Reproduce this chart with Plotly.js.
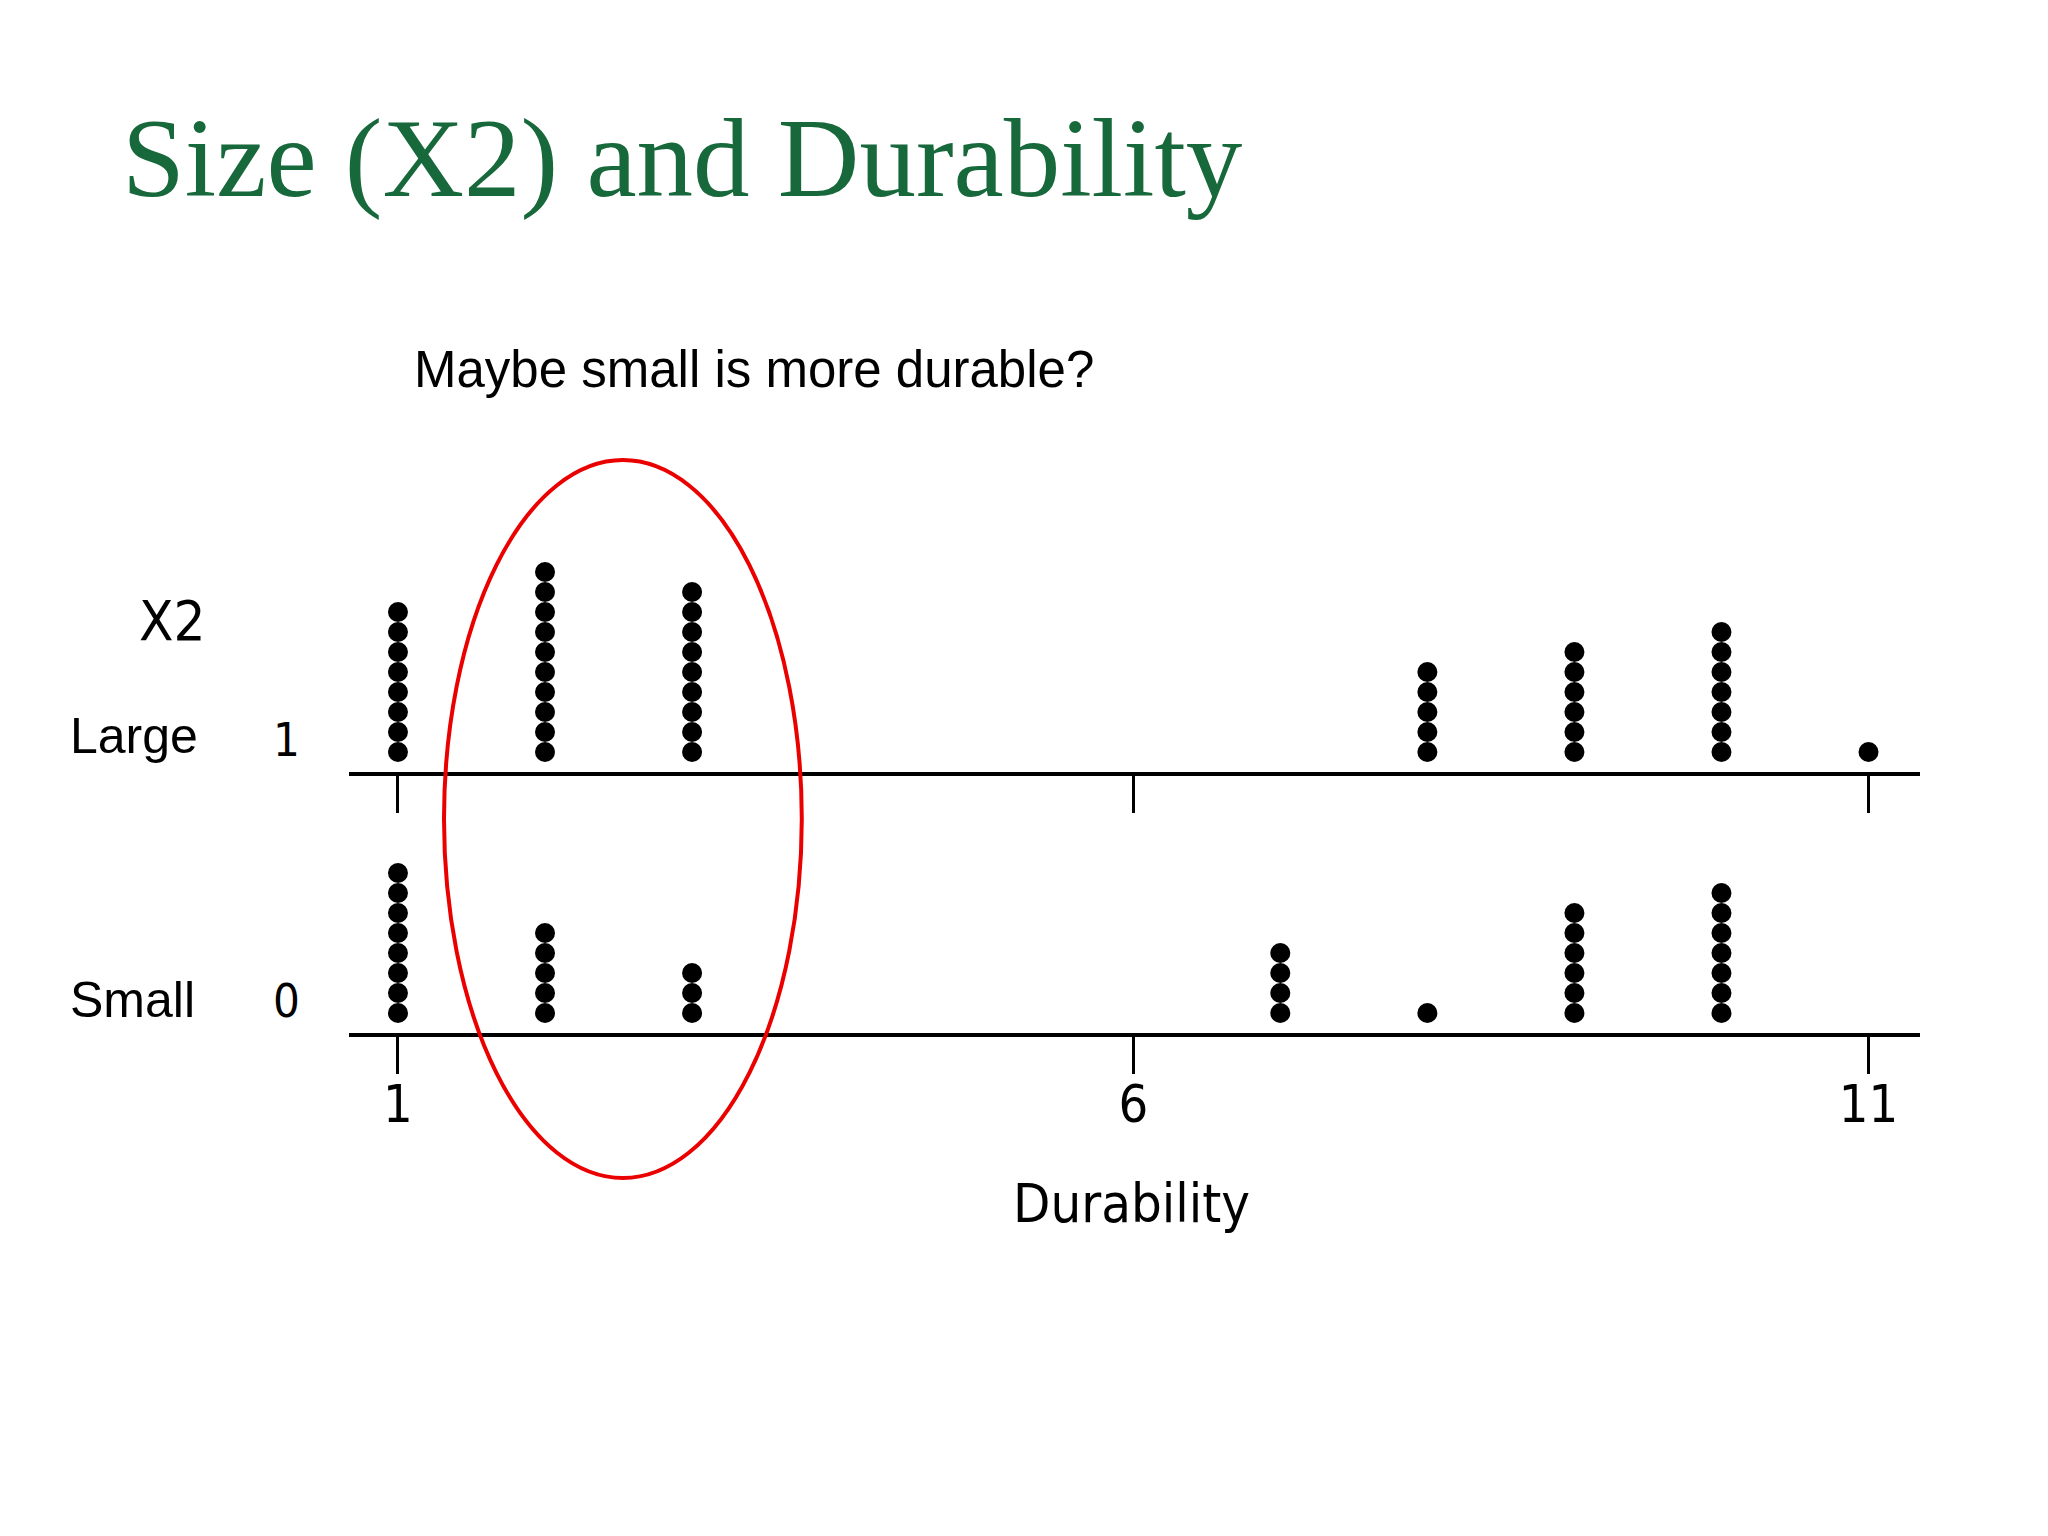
<!DOCTYPE html>
<html><head><meta charset="utf-8">
<script src="https://cdn.plot.ly/plotly-3.0.1.min.js"></script>
<style>html,body{margin:0;padding:0;background:#fff;}#chart{width:2048px;height:1536px;}</style>
</head><body><div id="chart"></div>
<script>
// ---- data ----
const durability = [1, 2, 3, 7, 8, 9, 10, 11];
const largeCounts = [8, 10, 9, 0, 5, 6, 7, 1];
const smallCounts = [8, 5, 3, 4, 1, 6, 7, 0];
const groupNames = ['Large', 'Small'];
const groupCodes = ['1', '0'];
const xTickVals = [1, 6, 11];
const titleText = 'Size (X2) and Durability';
const subtitleText = 'Maybe small is more durable?';
const xTitle = 'Durability';
const yTitle = 'X2';

// ---- build stacked dots from counts ----
function stack(counts) {
  const xs = [], ys = [];
  durability.forEach((d, i) => {
    for (let k = 1; k <= counts[i]; k++) { xs.push(d); ys.push(k); }
  });
  return { xs, ys };
}
const L = stack(largeCounts), S = stack(smallCounts);

// ---- geometry helpers (pixel layout) ----
const W = 2048, H = 1536;
const ml = 349, mr = 128, mt = 532, mb = 503;
const plotH = H - mt - mb;
const py = p => (H - mb - p) / plotH;          // page px y -> paper y
const px = p => (p - ml) / (W - ml - mr);        // page px x -> paper x

const narrow = 'Liberation Sans Narrow, DejaVu Sans Condensed, Arial Narrow, sans-serif';
const sans = 'Liberation Sans, Arial, sans-serif';

const dotMarker = { color: '#000', size: 20, symbol: 'circle' };

const traces = [
  { type: 'scatter', mode: 'markers', x: L.xs, y: L.ys, xaxis: 'x', yaxis: 'y',
    marker: dotMarker, hoverinfo: 'x', showlegend: false, cliponaxis: false },
  { type: 'scatter', mode: 'markers', x: S.xs, y: S.ys, xaxis: 'x2', yaxis: 'y2',
    marker: dotMarker, hoverinfo: 'x', showlegend: false, cliponaxis: false }
];

const xBase = {
  range: [0.667, 11.35], showline: true, linewidth: 4, linecolor: '#000',
  ticks: 'outside', ticklen: 37, tickwidth: 3, tickcolor: '#000',
  tickmode: 'array', tickvals: xTickVals, ticktext: xTickVals.map(String),
  showgrid: false, zeroline: false, fixedrange: true, automargin: false
};
const yBase = {
  range: [0, 12], showgrid: false, zeroline: false, showline: false,
  ticks: '', tickmode: 'array', tickvals: [1.6], ticklabelstandoff: 48,
  tickfont: { family: narrow, size: 47, color: '#000' }, fixedrange: true, automargin: false
};

const layout = {
  width: W, height: H, autosize: false,
  margin: { l: ml, r: mr, t: mt, b: mb },
  paper_bgcolor: '#fff', plot_bgcolor: 'rgba(0,0,0,0)',
  showlegend: false,
  xaxis: Object.assign({}, xBase, { anchor: 'y', domain: [0, 1], showticklabels: false }),
  yaxis: Object.assign({}, yBase, { anchor: 'x', domain: [py(772), 1], ticktext: [groupCodes[0]] }),
  xaxis2: Object.assign({}, xBase, { anchor: 'y2', domain: [0, 1], matches: 'x', showticklabels: true,
    ticklabelstandoff: -14, tickfont: { family: narrow, size: 52, color: '#000' } }),
  yaxis2: Object.assign({}, yBase, { anchor: 'x2', domain: [0, py(793)], ticktext: [groupCodes[1]] }),
  shapes: [
    { type: 'circle', xref: 'x', yref: 'paper', x0: 1.313, x1: 3.746, y0: py(1178), y1: py(460),
      line: { color: 'rgb(235,0,0)', width: 4 }, fillcolor: 'rgba(0,0,0,0)', layer: 'above' }
  ],
  annotations: [
    { text: titleText, xref: 'paper', yref: 'paper', x: px(120), y: py(157), xanchor: 'left', yanchor: 'middle',
      showarrow: false, font: { family: 'Liberation Serif, Times New Roman, serif', size: 113, color: '#17683b' } },
    { text: subtitleText, xref: 'paper', yref: 'paper', x: px(412), y: py(370), xanchor: 'left', yanchor: 'middle',
      showarrow: false, font: { family: sans, size: 51, color: '#000' } },
    { text: yTitle, xref: 'paper', yref: 'paper', x: px(172), y: py(620), xanchor: 'center', yanchor: 'middle',
      showarrow: false, font: { family: narrow, size: 56, color: '#000' } },
    { text: groupNames[0], xref: 'paper', yref: 'paper', x: px(68), y: py(736), xanchor: 'left', yanchor: 'middle',
      showarrow: false, font: { family: sans, size: 50, color: '#000' } },
    { text: groupNames[1], xref: 'paper', yref: 'paper', x: px(68), y: py(1000), xanchor: 'left', yanchor: 'middle',
      showarrow: false, font: { family: sans, size: 50, color: '#000' } },
    { text: xTitle, xref: 'paper', yref: 'paper', x: px(1131), y: py(1203), xanchor: 'center', yanchor: 'middle',
      showarrow: false, font: { family: narrow, size: 54, color: '#000' } }
  ]
};

Plotly.newPlot('chart', traces, layout, { staticPlot: true, displayModeBar: false });
</script>
</body></html>
